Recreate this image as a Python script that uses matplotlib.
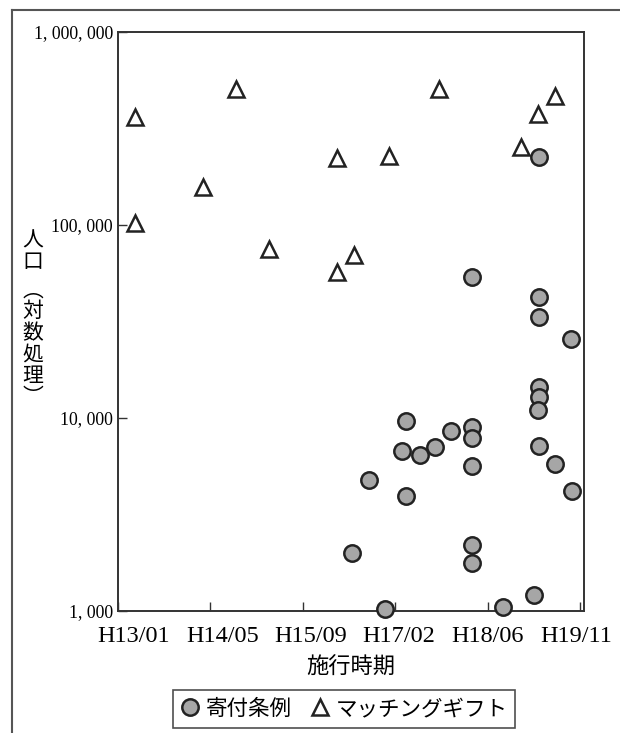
import numpy as np
import pandas as pd
import matplotlib
matplotlib.use('Agg')
import matplotlib.pyplot as plt
import matplotlib.dates as mdates
from matplotlib.lines import Line2D

JP = ['Noto Sans CJK JP', 'DejaVu Sans']
SERIF = ['Liberation Serif', 'DejaVu Serif']

# ─────────────────────────────────────────────
# data: 施行時期 (date) / 人口
# ─────────────────────────────────────────────
gift_dates = ['2001-04-02', '2001-04-02', '2002-04-05', '2002-09-30', '2003-03-27',
              '2004-03-29', '2004-03-29', '2004-06-28', '2005-01-03', '2005-09-30',
              '2006-12-17', '2007-03-19', '2007-06-19']
gift_pop = [363000, 102000, 157000, 507000, 75000,
            222000, 57000, 70000, 228000, 507000,
            253000, 376000, 466000]

ord_dates = ['2007-03-24', '2006-03-28', '2007-03-24', '2007-03-24', '2007-09-13',
             '2007-03-24', '2007-03-24', '2007-03-19', '2005-04-05', '2006-03-28',
             '2006-03-28', '2005-12-04', '2005-09-09', '2005-03-15', '2005-06-20',
             '2007-03-24', '2006-03-28', '2007-06-19', '2004-09-17', '2005-04-05',
             '2007-09-19', '2006-03-28', '2004-06-18', '2006-03-28', '2007-02-25',
             '2004-12-13', '2006-09-11']
ord_pop = [225000, 53800, 42400, 33400, 25700,
           14500, 12800, 11000, 9640, 8980,
           7870, 8570, 7080, 6750, 6430,
           7160, 5640, 5780, 4770, 3940,
           4190, 2200, 2000, 1770, 1210,
           1020, 1050]

tick_dates = ['2001-01-01', '2002-05-15', '2003-09-26', '2005-02-06', '2006-06-20', '2007-11-01']
tick_labels = ['H13/01', 'H14/05', 'H15/09', 'H17/02', 'H18/06', 'H19/11']
x_range = ['2001-01-01', '2007-11-23']

y_ticks = [1000, 10000, 100000, 1000000]
y_labels = ['1, 000', '10, 000', '100, 000', '1, 000, 000']

series_names = ['寄付条例', 'マッチングギフト']
ylabel_chars = ['人', '口', '︵', '対', '数', '処', '理', '︶']
xlabel = '施行時期'

# ─────────────────────────────────────────────
# figure
# ─────────────────────────────────────────────
fig = plt.figure(figsize=(6.2, 7.33), dpi=100)
ax = fig.add_axes([118/620, 1 - 611/733, 466/620, 579/733])

edge = '#222222'
ms = 11.8
mew = 1.8
ax.plot(pd.to_datetime(gift_dates), gift_pop, ls='none', marker='^', ms=ms,
        mfc='white', mec=edge, mew=mew, clip_on=False, zorder=3)
ax.plot(pd.to_datetime(ord_dates), ord_pop, ls='none', marker='o', ms=ms,
        mfc='#a6a6a6', mec=edge, mew=mew, clip_on=False, zorder=4)

ax.set_yscale('log')
ax.set_ylim(1000, 1000000)
ax.set_xlim(pd.to_datetime(x_range[0]), pd.to_datetime(x_range[1]))

ax.set_yticks(y_ticks)
ax.set_yticklabels(y_labels, family=SERIF, fontsize=12.8)
ax.yaxis.set_minor_locator(matplotlib.ticker.NullLocator())

# ticks on the date axis, labels placed as text below
ax.set_xticks(pd.to_datetime(tick_dates))
ax.set_xticklabels([])
for i, lab in enumerate(tick_labels):
    ax.text(0.034 + i * 0.1898, -0.044, lab, transform=ax.transAxes,
            ha='center', va='center', family=SERIF, fontsize=17.5)

ax.tick_params(axis='both', direction='in', length=6.5, width=1.0, color='#333333')
ax.tick_params(axis='y', pad=3.6)
for s in ax.spines.values():
    s.set_color('#333333')
    s.set_linewidth(1.4)

# axis titles
fig.text(351/620, 1 - 667/733, xlabel, ha='center', va='center', family=JP, fontsize=16)
# vertical y title, one glyph per cell
ylabel_rows = [241, 262, 291, 311, 333, 355, 376, 397]
for ch, yy in zip(ylabel_chars, ylabel_rows):
    fig.text(33/620, 1 - yy/733, ch, ha='center', va='center', family=JP, fontsize=15)

# legend
handles = [Line2D([], [], ls='none', marker='o', ms=ms, mfc='#a6a6a6', mec=edge, mew=mew),
           Line2D([], [], ls='none', marker='^', ms=ms, mfc='white', mec=edge, mew=mew)]
leg = fig.legend(handles, series_names, loc='center', bbox_to_anchor=(344/620, 1 - 709/733),
                 bbox_transform=fig.transFigure, ncol=2, prop={'family': JP, 'size': 15.5},
                 frameon=True, fancybox=False, edgecolor='#222222', handlelength=0.9,
                 handletextpad=0.25, columnspacing=0.9, borderpad=0.35, borderaxespad=0)
leg.get_frame().set_linewidth(1.2)

# outer frame
fig.add_artist(Line2D([12/620, 12/620], [1 - 10/733, 0], transform=fig.transFigure,
                      color='#555555', lw=1.5))
fig.add_artist(Line2D([12/620, 1], [1 - 10/733, 1 - 10/733], transform=fig.transFigure,
                      color='#555555', lw=1.5))

fig.savefig('out.png', dpi=100)
